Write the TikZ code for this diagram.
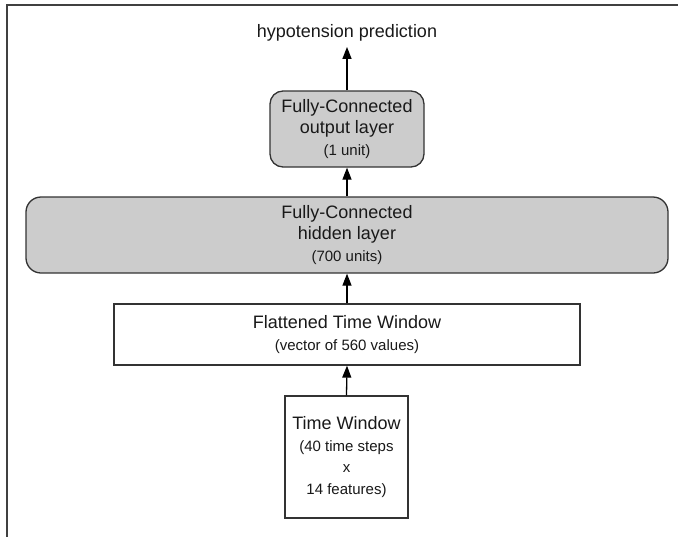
\documentclass[tikz,border=0pt]{standalone}
\usepackage{fontspec}
\setmainfont{Liberation Sans}
\usetikzlibrary{arrows.meta}
\newcommand{\smtxt}[1]{{\fontsize{15}{21.5}\selectfont #1}}
\begin{document}
\begin{tikzpicture}[x=1pt,y=-1pt,
  box/.style={draw=black!80, line width=1.3pt, align=center, inner sep=0pt,
    text=black!90, font=\fontsize{18}{21.5}\selectfont},
  grayfill/.style={fill=black!20, rounded corners=13pt},
  arr/.style={draw=black, line width=1.3pt, -{Triangle[length=12pt,width=9pt]}},
  lbl/.style={text=black!90, font=\fontsize{18}{22}\selectfont, inner sep=6pt}]
\useasboundingbox (0,0) rectangle (678,536);
\draw[line width=2pt, black!75] (7,537) -- (7,5) -- (679,5);

\node[lbl, anchor=base] (pred) at (347,37) {hypotension prediction};

\node[box, grayfill, minimum width=154pt, minimum height=76pt] (out) at (347,129)
  {Fully-Connected\\output layer\\\smtxt{(1 unit)}};

\node[box, grayfill, rounded corners=15pt, minimum width=642pt, minimum height=76pt] (hid) at (347,235)
  {Fully-Connected\\hidden layer\\\smtxt{(700 units)}};

\node[box, fill=white, minimum width=466pt, minimum height=61pt] (flat) at (347,334.5)
  {Flattened Time Window\\\smtxt{(vector of 560 values)}};

\node[box, fill=white, minimum width=123pt, minimum height=122pt] (tw) at (346.5,457)
  {Time Window\\\smtxt{(40 time steps}\\\smtxt{x}\\\smtxt{14 features)}};

\draw[arr] (tw.north) -- (flat.south);
\draw[arr] (flat.north) -- (hid.south);
\draw[arr] (hid.north) -- (out.south);
\draw[arr] (out.north) -- (pred.south);
\end{tikzpicture}
\end{document}
